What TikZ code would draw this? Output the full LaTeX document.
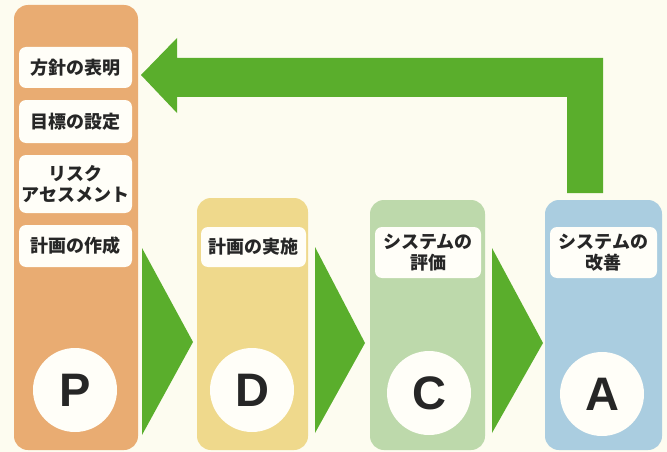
\documentclass[tikz,border=0pt]{standalone}
\usepackage{fontspec}
\newfontfamily\jp{Noto Sans CJK JP}[BoldFont={Noto Sans CJK JP Black}]
\setsansfont{Liberation Sans}
\definecolor{bgc}{HTML}{FDFCF0}
\definecolor{pcol}{HTML}{E9AC72}
\definecolor{dcol}{HTML}{EFD98C}
\definecolor{ccol}{HTML}{BDD9AB}
\definecolor{acol}{HTML}{AACDE0}
\definecolor{grn}{HTML}{5AAE2C}
\definecolor{lbl}{HTML}{FFFEF8}
\begin{document}
\begin{tikzpicture}[x=1pt,y=-1pt,
  column/.style={draw=none,rounded corners=14pt,inner sep=0pt},
  label/.style={fill=lbl,draw=none,rounded corners=7pt,inner sep=0pt,align=center,
     font=\jp\bfseries\fontsize{18}{20.5}\selectfont,text=black!85},
  letter/.style={circle,fill=lbl,draw=none,minimum size=84pt,inner sep=0pt,
     font=\sffamily\bfseries\fontsize{47}{47}\selectfont,text=black!85},
  flow/.style={fill=grn,draw=none}]
\useasboundingbox (0,0) rectangle (667,452);
\fill[bgc] (0,0) rectangle (667,452);
% columns
\node[column,fill=pcol,minimum width=124pt,minimum height=445pt] (colP) at (76,227.5) {};
\node[column,fill=dcol,minimum width=111pt,minimum height=252pt] (colD) at (252.5,324) {};
\node[column,fill=ccol,minimum width=115pt,minimum height=250pt] (colC) at (427.5,325) {};
\node[column,fill=acol,minimum width=117pt,minimum height=250pt] (colA) at (603.5,325) {};
% labels
\node[label,minimum width=113pt,minimum height=41pt] (p1) at (75.5,67.5) {方針の表明};
\node[label,minimum width=113pt,minimum height=43pt] (p2) at (75.5,121.5) {目標の設定};
\node[label,minimum width=113pt,minimum height=58pt] (p3) at (75.5,184) {リスク\\アセスメント};
\node[label,minimum width=113pt,minimum height=42pt] (p4) at (75.5,246) {計画の作成};
\node[label,minimum width=105pt,minimum height=40pt] (d1) at (253.5,247) {計画の実施};
\node[label,minimum width=106pt,minimum height=51pt] (c1) at (428,252.5) {システムの\\評価};
\node[label,minimum width=107pt,minimum height=51pt] (a1) at (603.5,252.5) {システムの\\改善};
% letters
\node[letter] (P) at (75,390) {P};
\node[letter] (D) at (252,390) {D};
\node[letter] (C) at (429,393) {C};
\node[letter] (A) at (602,394) {A};
% forward arrows
\fill[flow] (142,248) -- (193,342) -- (142,435) -- cycle;
\fill[flow] (315,247) -- (365,343) -- (315,433) -- cycle;
\fill[flow] (492,248) -- (543,343) -- (492,433) -- cycle;
% feedback arrow
\fill[flow] (141,75) -- (177,38) -- (177,58) -- (603,58) -- (603,193) -- (567,193)
  -- (567,97) -- (177,97) -- (177,113) -- cycle;
\end{tikzpicture}
\end{document}
